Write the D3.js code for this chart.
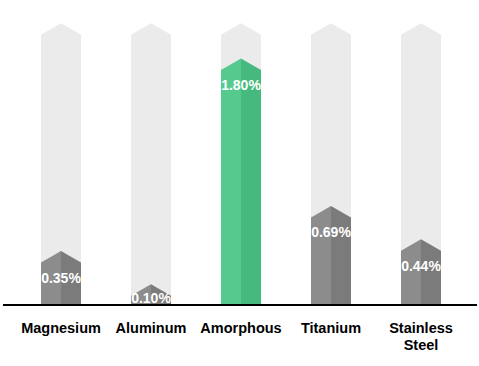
<!DOCTYPE html>
<html>
<head>
<meta charset="utf-8">
<script src="https://cdn.jsdelivr.net/npm/d3@7"></script>
<style>
  html, body { margin: 0; padding: 0; background: #fff; }
  svg { display: block; }
</style>
</head>
<body>
<svg id="chart" width="479" height="366"></svg>
<script>
const categories = ["Magnesium", "Aluminum", "Amorphous", "Titanium", "Stainless Steel"];
const values = [0.35, 0.10, 1.80, 0.69, 0.44];
const valueLabels = ["0.35%", "0.10%", "1.80%", "0.69%", "0.44%"];
const highlight = ["Amorphous"];
const yMax = 2.065;

const svg = d3.select("#chart");
const baseY = 304;
const headH = 11.5;
const tipLift = 6.4;

const x = d3.scaleBand().domain(categories).range([16, 466]).paddingInner(0.5556).paddingOuter(0.2778);
const y = d3.scaleLinear().domain([0, yMax]).range([baseY, 29.6]);

function arrowPath(cx, w, tipY, bottom) {
  const sh = tipY + headH;
  return `M${cx - w/2},${bottom} L${cx - w/2},${sh} L${cx},${tipY} L${cx + w/2},${sh} L${cx + w/2},${bottom} Z`;
}
function halfPath(cx, w, tipY, bottom, side) {
  const sh = tipY + headH;
  if (side === "L") return `M${cx - w/2},${bottom} L${cx - w/2},${sh} L${cx},${tipY} L${cx},${bottom} Z`;
  return `M${cx},${bottom} L${cx},${tipY} L${cx + w/2},${sh} L${cx + w/2},${bottom} Z`;
}

const w = x.bandwidth();
const g = svg.append("g");

g.selectAll("path.bg").data(categories).join("path")
  .attr("class", "bg")
  .attr("d", c => arrowPath(x(c) + w/2, w, y(yMax) - tipLift, baseY))
  .attr("fill", "#ebebeb");

const data = categories.map((c, i) => ({ c, v: values[i], label: valueLabels[i], hl: highlight.includes(c) }));

g.selectAll("path.l").data(data).join("path")
  .attr("class", "l")
  .attr("d", d => halfPath(x(d.c) + w/2, w, y(d.v) - tipLift, baseY, "L"))
  .attr("fill", d => d.hl ? "#56c98f" : "#8c8c8c");
g.selectAll("path.r").data(data).join("path")
  .attr("class", "r")
  .attr("d", d => halfPath(x(d.c) + w/2, w, y(d.v) - tipLift, baseY, "R"))
  .attr("fill", d => d.hl ? "#46ba7e" : "#7b7b7b");

g.selectAll("text.val").data(data).join("text")
  .attr("class", "val")
  .attr("x", d => x(d.c) + w/2)
  .attr("y", d => Math.min(y(d.v) - tipLift + headH + 15, baseY - 6))
  .attr("text-anchor", "middle")
  .attr("dominant-baseline", "central")
  .attr("font-family", "Liberation Sans, Arial, sans-serif")
  .attr("font-weight", "bold")
  .attr("font-size", 14)
  .attr("fill", "#ffffff")
  .text(d => d.label);

svg.append("line")
  .attr("x1", 3).attr("x2", 477)
  .attr("y1", baseY + 1).attr("y2", baseY + 1)
  .attr("stroke", "#000").attr("stroke-width", 2);

const axis = d3.axisBottom(x).tickSize(0).tickPadding(0);
const ax = svg.append("g").attr("transform", `translate(0,${baseY})`).call(axis);
ax.select(".domain").remove();
ax.selectAll(".tick text").each(function(c) {
  const t = d3.select(this);
  t.text(null)
    .attr("y", 0).attr("dy", null)
    .attr("font-family", "Liberation Sans, Arial, sans-serif")
    .attr("font-weight", "bold")
    .attr("font-size", 14.5)
    .attr("fill", "#000");
  const words = c === "Stainless Steel" ? ["Stainless", "Steel"] : [c];
  words.forEach((wd, i) => {
    t.append("tspan").attr("x", 0).attr("y", 29 + i * 17.3).text(wd);
  });
});
</script>
</body>
</html>
